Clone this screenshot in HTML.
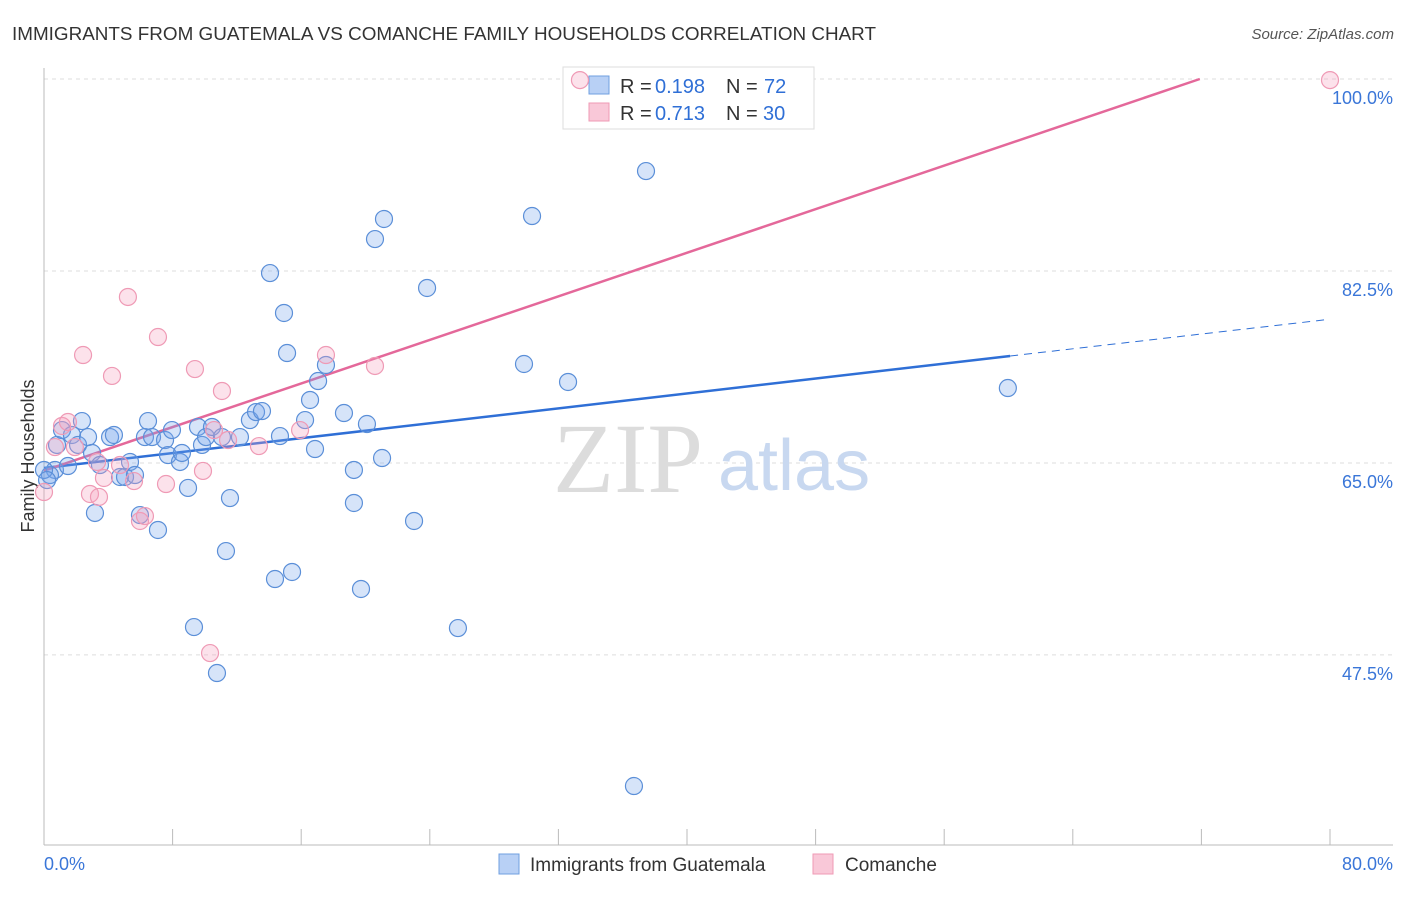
<!DOCTYPE html>
<html><head><meta charset="utf-8"><style>
body{margin:0;background:#fff;font-family:"Liberation Sans",sans-serif}
</style></head><body>
<svg id="chart" width="1406" height="892" xmlns="http://www.w3.org/2000/svg" font-family="Liberation Sans, sans-serif">
<text x="12" y="40" font-size="18" fill="#333" textLength="864" lengthAdjust="spacingAndGlyphs">IMMIGRANTS FROM GUATEMALA VS COMANCHE FAMILY HOUSEHOLDS CORRELATION CHART</text>
<text x="1394" y="39" font-size="15" fill="#555" text-anchor="end" font-style="italic">Source: ZipAtlas.com</text>
<text transform="translate(34,456) rotate(-90)" font-size="18" fill="#333" text-anchor="middle">Family Households</text>
<g id="grid"></g><g id="axes"></g>
<text x="553" y="492" font-size="100" fill="#dcdcdc" font-family="Liberation Serif, serif">ZIP</text>
<text x="718" y="490" font-size="72" fill="#c8d8f0">atlas</text>
<g>
<rect x="563" y="67" width="251" height="62" fill="#fff" stroke="#ddd"/>
<rect x="589" y="76" width="20" height="18" fill="#b8d0f5" stroke="#6f9fe0"/>
<rect x="589" y="103" width="20" height="18" fill="#f9c8d8" stroke="#ef9ab5"/>
<text x="620" y="93" font-size="20" fill="#333">R =</text><text x="655" y="93" font-size="20" fill="#2f6fd6">0.198</text>
<text x="726" y="93" font-size="20" fill="#333">N =</text><text x="764" y="93" font-size="20" fill="#2f6fd6">72</text>
<text x="620" y="120" font-size="20" fill="#333">R =</text><text x="655" y="120" font-size="20" fill="#2f6fd6">0.713</text>
<text x="726" y="120" font-size="20" fill="#333">N =</text><text x="763" y="120" font-size="20" fill="#2f6fd6">30</text>
</g>
<g id="lines"></g><g id="points"></g>
<g>
<rect x="499" y="854" width="20" height="20" fill="#b8d0f5" stroke="#6f9fe0"/>
<text x="530" y="871" font-size="19" fill="#333">Immigrants from Guatemala</text>
<rect x="813" y="854" width="20" height="20" fill="#f9c8d8" stroke="#ef9ab5"/>
<text x="845" y="871" font-size="19" fill="#333">Comanche</text>
</g>
</svg>
<script>
const yTicks=[100,82.5,65,47.5];
const yTickLabels=["100.0%","82.5%","65.0%","47.5%"];
const xTicks=[0,8,16,24,32,40,48,56,64,72,80];
const blueX=[0.68,0.37,0.81,1.12,1.49,1.74,2.12,2.36,2.74,2.99,3.17,3.48,4.11,4.35,4.73,5.04,5.35,5.66,5.97,6.28,6.47,6.72,7.09,7.53,7.71,7.96,8.46,8.58,8.96,9.33,9.58,9.83,10.08,10.45,10.76,11.07,11.32,11.57,12.19,12.81,13.19,13.56,14.06,14.37,14.68,14.93,15.12,15.43,16.24,16.55,16.86,17.05,17.54,18.66,19.28,19.28,19.72,20.09,20.59,21.03,21.15,23.02,23.83,25.75,29.86,30.36,32.6,36.7,37.45,59.96,0,0.19];
const blueY=[64.36,63.9,66.64,68.0,64.72,67.55,66.64,68.82,67.36,65.91,60.44,64.81,67.36,67.55,63.72,63.72,65.09,63.9,60.25,67.36,68.82,67.36,58.89,67.09,65.72,68.0,65.09,65.91,62.72,50.04,68.28,66.64,67.36,68.28,45.85,67.36,56.97,61.8,67.36,68.91,69.64,69.73,82.31,54.42,67.45,78.67,75.02,55.06,68.91,70.74,66.27,72.47,73.93,69.55,64.36,61.35,53.51,68.55,85.41,65.45,87.24,59.71,80.95,49.95,74.02,87.51,72.38,35.55,91.61,71.83,64.36,63.44];
const pinkX=[0,0.68,1.12,1.49,1.92,2.43,2.86,3.42,3.73,4.23,4.73,5.22,5.6,5.97,6.28,7.09,7.59,9.39,9.89,10.33,10.58,11.07,11.45,13.37,15.93,17.54,20.59,33.34,80,3.3];
const pinkY=[62.35,66.45,68.37,68.73,66.45,74.84,62.17,61.9,63.63,72.93,64.81,80.13,63.35,59.71,60.16,76.48,63.08,73.56,64.27,47.67,68.0,71.56,67.09,66.54,68.0,74.84,73.84,99.9,99.9,65.09];
const blueTrend=[[0,64.54],[60.1,74.75],[80,78.1]];
const pinkTrend=[[0,64.3],[71.9,100]];
const X=v=>44+v*16.075, Y=v=>79+(100-v)*10.97;
const NS="http://www.w3.org/2000/svg";
function mk(t,a,p){const e=document.createElementNS(NS,t);for(const k in a)e.setAttribute(k,a[k]);document.getElementById(p).appendChild(e);return e;}
yTicks.forEach((v,i)=>{
 const l=mk('line',{x1:44,x2:1393,y1:Y(v),y2:Y(v),stroke:'#ddd','stroke-dasharray':'4,4'},'grid');
 
 
 const t=mk('text',{x:1393,y:Y(v)+25,'font-size':18,fill:'#3a76d8','text-anchor':'end'},'grid');
 t.textContent=yTickLabels[i];
 
 
});
let a=mk('line',{x1:44,x2:44,y1:68,y2:845,stroke:'#bbb'},'axes');


a=mk('line',{x1:44,x2:1393,y1:845,y2:845,stroke:'#bbb'},'axes');


xTicks.forEach(v=>{const t=mk('line',{x1:X(v),x2:X(v),y1:829,y2:845,stroke:'#bbb'},'axes');
 
 });
let t=mk('text',{x:44,y:870,'font-size':18,fill:'#3a76d8'},'axes');t.textContent='0.0%';


t=mk('text',{x:1393,y:870,'font-size':18,fill:'#3a76d8','text-anchor':'end'},'axes');t.textContent='80.0%';


let l=mk('line',{x1:X(blueTrend[0][0]),y1:Y(blueTrend[0][1]),x2:X(blueTrend[1][0]),y2:Y(blueTrend[1][1]),stroke:'#2f6fd6','stroke-width':2.5},'lines');


l=mk('line',{x1:X(blueTrend[1][0]),y1:Y(blueTrend[1][1]),x2:X(blueTrend[2][0]),y2:Y(blueTrend[2][1]),stroke:'#2f6fd6','stroke-width':1,'stroke-dasharray':'8,6'},'lines');


l=mk('line',{x1:X(pinkTrend[0][0]),y1:Y(pinkTrend[0][1]),x2:X(pinkTrend[1][0]),y2:Y(pinkTrend[1][1]),stroke:'#e4689a','stroke-width':2.5},'lines');


blueX.forEach((v,i)=>{const c=mk('circle',{cx:X(v),cy:Y(blueY[i]),r:8.5,fill:'rgba(120,165,235,0.3)',stroke:'#5b8fd8','stroke-width':1.2},'points');
 
 });
pinkX.forEach((v,i)=>{const c=mk('circle',{cx:X(v),cy:Y(pinkY[i]),r:8.5,fill:'rgba(245,160,190,0.3)',stroke:'#ef9ab5','stroke-width':1.2},'points');
 
 });
</script>
</body></html>
